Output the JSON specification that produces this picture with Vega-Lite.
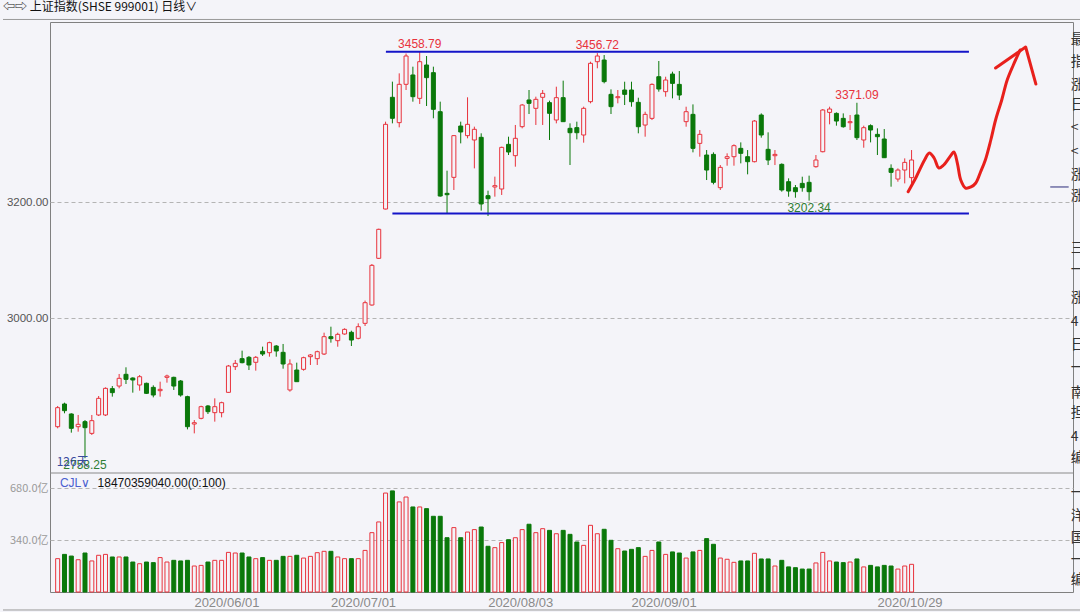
{
  "$schema": "https://vega.github.io/schema/vega-lite/v6.json",
  "width": 1023,
  "height": 570,
  "autosize": {"type": "none"},
  "padding": {"left": 50, "top": 22, "right": 7, "bottom": 20},
  "background": "#f4f4f9",
  "title": {"text": "⇦⇨ 上证指数(SHSE 999001) 日线∨", "anchor": "start", "frame": "group", "dx": -47, "offset": 5, "fontSize": 12, "font": "Noto Sans CJK SC", "fontWeight": "normal", "color": "#111"},
  "config": {"view": {"stroke": "#808080", "strokeWidth": 1}, "axis": {"labelFont": "Liberation Sans"}},
  "resolve": {"scale": {"y": "independent"}},
  "datasets": {
    "k": [
      {"i":0,"o":2812.6,"h":2848.3,"l":2809.8,"c":2845.4,"v":218},
      {"i":1,"o":2851.7,"h":2854.0,"l":2835.7,"c":2840.2,"v":246},
      {"i":2,"o":2834.5,"h":2835.7,"l":2802.3,"c":2809.8,"v":235},
      {"i":3,"o":2812.6,"h":2832.8,"l":2804.0,"c":2816.7,"v":211},
      {"i":4,"o":2821.3,"h":2824.1,"l":2758.25,"c":2810.9,"v":255},
      {"i":5,"o":2801.1,"h":2832.8,"l":2798.3,"c":2823.0,"v":203},
      {"i":6,"o":2832.8,"h":2865.5,"l":2831.0,"c":2861.5,"v":240},
      {"i":7,"o":2832.8,"h":2880.4,"l":2831.0,"c":2878.7,"v":246},
      {"i":8,"o":2878.2,"h":2882.7,"l":2864.4,"c":2871.3,"v":229},
      {"i":9,"o":2882.7,"h":2903.5,"l":2878.7,"c":2896.0,"v":229},
      {"i":10,"o":2902.9,"h":2915.0,"l":2886.2,"c":2894.2,"v":229},
      {"i":11,"o":2896.5,"h":2897.7,"l":2871.3,"c":2893.1,"v":196},
      {"i":12,"o":2884.5,"h":2901.7,"l":2874.7,"c":2898.8,"v":185},
      {"i":13,"o":2887.4,"h":2888.5,"l":2869.0,"c":2870.1,"v":196},
      {"i":14,"o":2880.4,"h":2883.9,"l":2863.2,"c":2867.2,"v":192},
      {"i":15,"o":2874.7,"h":2890.2,"l":2864.4,"c":2877.0,"v":225},
      {"i":16,"o":2897.7,"h":2902.3,"l":2888.5,"c":2900.0,"v":196},
      {"i":17,"o":2897.7,"h":2898.8,"l":2875.9,"c":2882.7,"v":207},
      {"i":18,"o":2891.4,"h":2893.1,"l":2864.4,"c":2867.2,"v":203},
      {"i":19,"o":2864.4,"h":2866.0,"l":2808.0,"c":2812.6,"v":207},
      {"i":20,"o":2817.2,"h":2824.1,"l":2801.1,"c":2819.5,"v":170},
      {"i":21,"o":2827.0,"h":2848.8,"l":2825.3,"c":2847.1,"v":174},
      {"i":22,"o":2848.3,"h":2850.0,"l":2834.5,"c":2838.5,"v":196},
      {"i":23,"o":2836.8,"h":2861.5,"l":2821.3,"c":2847.1,"v":207},
      {"i":24,"o":2836.8,"h":2855.7,"l":2828.7,"c":2854.0,"v":207},
      {"i":25,"o":2871.8,"h":2919.0,"l":2871.3,"c":2917.2,"v":259},
      {"i":26,"o":2916.1,"h":2927.6,"l":2910.3,"c":2921.8,"v":255},
      {"i":27,"o":2929.9,"h":2943.7,"l":2921.8,"c":2923.0,"v":255},
      {"i":28,"o":2932.2,"h":2934.5,"l":2910.3,"c":2919.0,"v":229},
      {"i":29,"o":2923.6,"h":2934.5,"l":2909.2,"c":2932.2,"v":218},
      {"i":30,"o":2942.5,"h":2950.6,"l":2934.5,"c":2937.9,"v":225},
      {"i":31,"o":2940.2,"h":2959.2,"l":2933.3,"c":2957.5,"v":207},
      {"i":32,"o":2951.7,"h":2953.4,"l":2933.3,"c":2943.1,"v":207},
      {"i":33,"o":2940.8,"h":2955.2,"l":2912.6,"c":2920.7,"v":233},
      {"i":34,"o":2875.9,"h":2928.7,"l":2873.0,"c":2920.7,"v":233},
      {"i":35,"o":2910.3,"h":2923.0,"l":2890.2,"c":2890.2,"v":240},
      {"i":36,"o":2911.5,"h":2933.3,"l":2909.2,"c":2931.6,"v":222},
      {"i":37,"o":2933.3,"h":2937.9,"l":2919.0,"c":2936.2,"v":233},
      {"i":38,"o":2929.9,"h":2943.7,"l":2919.0,"c":2941.9,"v":257},
      {"i":39,"o":2937.9,"h":2974.7,"l":2936.2,"c":2967.8,"v":266},
      {"i":40,"o":2967.8,"h":2985.0,"l":2957.5,"c":2964.4,"v":266},
      {"i":41,"o":2960.9,"h":2974.7,"l":2950.5,"c":2971.8,"v":229},
      {"i":42,"o":2972.4,"h":2982.2,"l":2971.2,"c":2980.4,"v":218},
      {"i":43,"o":2975.3,"h":2978.1,"l":2951.7,"c":2962.0,"v":218},
      {"i":44,"o":2964.9,"h":2990.8,"l":2963.2,"c":2985.0,"v":218},
      {"i":45,"o":2990.8,"h":3030.0,"l":2986.2,"c":3026.4,"v":272},
      {"i":46,"o":3022.4,"h":3093.1,"l":3021.3,"c":3090.8,"v":388},
      {"i":47,"o":3102.9,"h":3154.0,"l":3101.7,"c":3152.9,"v":458},
      {"i":48,"o":3187.9,"h":3338.5,"l":3187.3,"c":3333.9,"v":647},
      {"i":49,"o":3380.5,"h":3407.5,"l":3335.6,"c":3344.3,"v":661},
      {"i":50,"o":3336.8,"h":3421.8,"l":3328.7,"c":3402.9,"v":589},
      {"i":51,"o":3402.9,"h":3456.0,"l":3393.1,"c":3451.7,"v":621},
      {"i":52,"o":3419.0,"h":3433.3,"l":3373.0,"c":3381.6,"v":556},
      {"i":53,"o":3378.7,"h":3458.79,"l":3369.0,"c":3441.9,"v":556},
      {"i":54,"o":3436.2,"h":3451.7,"l":3365.5,"c":3414.4,"v":545},
      {"i":55,"o":3423.0,"h":3433.3,"l":3344.3,"c":3359.8,"v":495},
      {"i":56,"o":3355.7,"h":3373.0,"l":3209.2,"c":3210.3,"v":495},
      {"i":57,"o":3214.9,"h":3254.0,"l":3180.5,"c":3212.6,"v":355},
      {"i":58,"o":3242.5,"h":3315.5,"l":3220.7,"c":3314.4,"v":421},
      {"i":59,"o":3331.0,"h":3338.5,"l":3301.1,"c":3320.7,"v":355},
      {"i":60,"o":3314.4,"h":3380.5,"l":3309.8,"c":3333.9,"v":392},
      {"i":61,"o":3306.9,"h":3329.9,"l":3258.0,"c":3325.3,"v":408},
      {"i":62,"o":3311.5,"h":3318.4,"l":3185.1,"c":3196.6,"v":425},
      {"i":63,"o":3210.9,"h":3219.5,"l":3175.9,"c":3205.7,"v":299},
      {"i":64,"o":3225.9,"h":3243.7,"l":3209.2,"c":3228.2,"v":290},
      {"i":65,"o":3222.4,"h":3295.4,"l":3212.1,"c":3294.2,"v":323},
      {"i":66,"o":3299.4,"h":3312.6,"l":3281.0,"c":3286.2,"v":342},
      {"i":67,"o":3279.9,"h":3332.8,"l":3260.9,"c":3309.8,"v":355},
      {"i":68,"o":3329.9,"h":3369.0,"l":3327.0,"c":3367.2,"v":408},
      {"i":69,"o":3375.9,"h":3393.1,"l":3351.7,"c":3370.1,"v":443},
      {"i":70,"o":3361.5,"h":3381.6,"l":3332.8,"c":3377.0,"v":388},
      {"i":71,"o":3380.5,"h":3393.1,"l":3332.8,"c":3387.3,"v":414},
      {"i":72,"o":3371.3,"h":3374.7,"l":3306.9,"c":3352.9,"v":403},
      {"i":73,"o":3341.4,"h":3398.8,"l":3335.6,"c":3379.9,"v":381},
      {"i":74,"o":3379.9,"h":3409.2,"l":3338.5,"c":3338.5,"v":403},
      {"i":75,"o":3327.0,"h":3335.6,"l":3263.8,"c":3319.5,"v":377},
      {"i":76,"o":3328.2,"h":3338.5,"l":3308.0,"c":3319.5,"v":327},
      {"i":77,"o":3315.5,"h":3364.4,"l":3302.3,"c":3361.5,"v":305},
      {"i":78,"o":3373.0,"h":3441.9,"l":3370.1,"c":3439.1,"v":436},
      {"i":79,"o":3441.9,"h":3456.72,"l":3430.5,"c":3451.7,"v":381},
      {"i":80,"o":3444.8,"h":3453.4,"l":3404.6,"c":3407.5,"v":410},
      {"i":81,"o":3385.6,"h":3394.2,"l":3351.7,"c":3364.4,"v":338},
      {"i":82,"o":3379.8,"h":3393.1,"l":3370.1,"c":3381.6,"v":283},
      {"i":83,"o":3393.1,"h":3407.4,"l":3367.2,"c":3385.6,"v":268},
      {"i":84,"o":3393.1,"h":3407.4,"l":3364.3,"c":3372.9,"v":279},
      {"i":85,"o":3371.8,"h":3379.8,"l":3318.4,"c":3329.8,"v":290},
      {"i":86,"o":3332.7,"h":3355.7,"l":3312.6,"c":3351.1,"v":233},
      {"i":87,"o":3344.2,"h":3404.5,"l":3341.3,"c":3402.8,"v":272},
      {"i":88,"o":3416.0,"h":3443.1,"l":3390.2,"c":3394.8,"v":327},
      {"i":89,"o":3390.2,"h":3416.0,"l":3381.6,"c":3410.3,"v":246},
      {"i":90,"o":3420.6,"h":3424.7,"l":3378.7,"c":3404.5,"v":262},
      {"i":91,"o":3402.8,"h":3425.8,"l":3375.8,"c":3384.4,"v":255},
      {"i":92,"o":3338.5,"h":3364.3,"l":3329.8,"c":3355.7,"v":222},
      {"i":93,"o":3351.1,"h":3368.3,"l":3285.6,"c":3292.5,"v":262},
      {"i":94,"o":3301.1,"h":3324.1,"l":3278.1,"c":3316.6,"v":272},
      {"i":95,"o":3281.0,"h":3289.6,"l":3237.9,"c":3255.1,"v":349},
      {"i":96,"o":3282.1,"h":3285.6,"l":3230.4,"c":3233.9,"v":312},
      {"i":97,"o":3224.7,"h":3263.7,"l":3220.7,"c":3259.7,"v":222},
      {"i":98,"o":3275.2,"h":3283.9,"l":3262.6,"c":3278.1,"v":214},
      {"i":99,"o":3278.1,"h":3299.4,"l":3262.6,"c":3297.1,"v":194},
      {"i":100,"o":3292.5,"h":3302.8,"l":3266.6,"c":3283.9,"v":203},
      {"i":101,"o":3278.1,"h":3289.6,"l":3247.7,"c":3269.5,"v":203},
      {"i":102,"o":3269.5,"h":3341.3,"l":3268.3,"c":3339.6,"v":253},
      {"i":103,"o":3350.0,"h":3352.8,"l":3310.9,"c":3315.5,"v":216},
      {"i":104,"o":3290.8,"h":3320.1,"l":3263.7,"c":3272.4,"v":216},
      {"i":105,"o":3279.8,"h":3289.6,"l":3263.7,"c":3282.1,"v":170},
      {"i":106,"o":3264.9,"h":3266.6,"l":3217.8,"c":3220.7,"v":207},
      {"i":107,"o":3235.0,"h":3240.8,"l":3209.1,"c":3218.9,"v":164},
      {"i":108,"o":3224.7,"h":3229.3,"l":3207.4,"c":3217.8,"v":159},
      {"i":109,"o":3232.1,"h":3243.6,"l":3217.8,"c":3224.7,"v":150},
      {"i":110,"o":3233.9,"h":3245.4,"l":3202.34,"c":3217.8,"v":150},
      {"i":111,"o":3260.9,"h":3281.0,"l":3259.2,"c":3272.4,"v":190},
      {"i":112,"o":3286.7,"h":3360.3,"l":3285.6,"c":3358.6,"v":259},
      {"i":113,"o":3354.5,"h":3364.3,"l":3333.9,"c":3360.3,"v":203},
      {"i":114,"o":3352.8,"h":3354.5,"l":3331.6,"c":3339.6,"v":196},
      {"i":115,"o":3344.2,"h":3352.8,"l":3328.1,"c":3329.8,"v":192},
      {"i":116,"o":3336.7,"h":3350.0,"l":3324.1,"c":3338.5,"v":196},
      {"i":117,"o":3350.0,"h":3371.09,"l":3306.9,"c":3310.9,"v":216},
      {"i":118,"o":3306.9,"h":3331.6,"l":3293.6,"c":3328.1,"v":164},
      {"i":119,"o":3331.6,"h":3333.9,"l":3302.8,"c":3324.1,"v":174},
      {"i":120,"o":3316.6,"h":3327.0,"l":3281.0,"c":3312.6,"v":164},
      {"i":121,"o":3308.6,"h":3325.8,"l":3276.4,"c":3276.4,"v":174},
      {"i":122,"o":3258.0,"h":3264.9,"l":3226.4,"c":3251.1,"v":170},
      {"i":123,"o":3239.6,"h":3258.0,"l":3235.0,"c":3255.1,"v":150},
      {"i":124,"o":3255.1,"h":3275.2,"l":3232.1,"c":3268.3,"v":170},
      {"i":125,"o":3242.0,"h":3289.6,"l":3232.1,"c":3272.4,"v":181}
    ],
    "ann": [
      {"i":53,"p":3458.79,"t":"3458.79","k":"hi"},
      {"i":79,"p":3456.72,"t":"3456.72","k":"hi"},
      {"i":117,"p":3371.09,"t":"3371.09","k":"hi"},
      {"i":110,"p":3202.34,"t":"3202.34","k":"lo"},
      {"i":4,"p":2758.25,"t":"2758.25","k":"lo"}
    ],
    "blue": [
      {"x1":48.05,"x2":133.4,"p":3459.0},
      {"x1":49.0,"x2":133.4,"p":3180.0}
    ],
    "frame": [
      {"x1":-8,"x2":160,"p":3514.7},
      {"x1":-8,"x2":160,"p":2496.6}
    ],
    "marker": [
      {"x1":145.3,"x2":148.0,"p":3225.9}
    ],
    "arrow": [
      {"k":0,"i":124.5,"p":3217.8},
      {"k":1,"i":125.7,"p":3243.6},
      {"k":2,"i":126.9,"p":3272.4},
      {"k":3,"i":127.6,"p":3284.5},
      {"k":4,"i":128.3,"p":3275.9},
      {"k":5,"i":129.0,"p":3258.6},
      {"k":6,"i":129.7,"p":3263.8},
      {"k":7,"i":130.8,"p":3281.0},
      {"k":8,"i":131.2,"p":3286.2},
      {"k":9,"i":131.7,"p":3267.2},
      {"k":10,"i":132.2,"p":3237.9},
      {"k":11,"i":132.9,"p":3224.1},
      {"k":12,"i":133.7,"p":3225.9},
      {"k":13,"i":134.4,"p":3232.8},
      {"k":14,"i":135.1,"p":3251.7},
      {"k":15,"i":135.8,"p":3272.4},
      {"k":16,"i":136.6,"p":3306.9},
      {"k":17,"i":137.3,"p":3341.4},
      {"k":18,"i":138.2,"p":3375.9},
      {"k":19,"i":139.0,"p":3410.3},
      {"k":20,"i":139.9,"p":3436.2},
      {"k":21,"i":140.9,"p":3462.1}
    ],
    "head": [
      {"k":0,"i":137.3,"p":3431.0},
      {"k":1,"i":141.7,"p":3467.2},
      {"k":2,"i":143.2,"p":3403.4}
    ],
    "cjl": [
      {"i":0.33,"v":712.8,"t":"CJL∨"},
      {"i":5.84,"v":712.8,"t":"18470359040.00(0:100)"}
    ],
    "days": [
      {"i":-0.14,"p":2751.7,"t":"126天"}
    ],
    "side": [
      {"p":3479.3,"t":"最"},{"p":3441.4,"t":"指"},{"p":3401.7,"t":"涨"},{"p":3367.2,"t":"日"},
      {"p":3327.6,"t":"<"},{"p":3286.2,"t":"<"},{"p":3246.6,"t":"涨"},{"p":3210.3,"t":"涨"},
      {"p":3120.7,"t":"三"},{"p":3082.8,"t":"一"},{"p":3034.5,"t":"涨"},{"p":2993.1,"t":"4"},
      {"p":2953.4,"t":"日"},{"p":2913.8,"t":"一"},{"p":2870.7,"t":"南"},{"p":2836.2,"t":"担"},
      {"p":2795.2,"t":"4"},{"p":2758.6,"t":"编"},{"p":2698.3,"t":"一"},{"p":2658.6,"t":"洋"},
      {"p":2620.7,"t":"国"},{"p":2582.8,"t":"一"},{"p":2548.3,"t":"编"}
    ]
  },
  "layer": [
    {
      "data": {"values": [{}]},
      "mark": {"type": "rule", "stroke": "#8a8a8a", "strokeWidth": 1},
      "encoding": {
        "y": {"datum": 778, "type": "quantitative", "scale": {"domain": [0, 680], "range": [570, 466], "nice": false, "zero": true}, "axis": null}
      }
    },
    {
      "data": {"name": "k"},
      "mark": {"type": "rule", "strokeWidth": 1},
      "encoding": {
        "x": {"field": "i", "type": "quantitative", "scale": {"domain": [-0.39, 147.9], "nice": false, "zero": false},
              "axis": {"orient": "bottom", "values": [25, 45, 68, 89, 125], "labelExpr": "datum.value == 25 ? '2020/06/01' : datum.value == 45 ? '2020/07/01' : datum.value == 68 ? '2020/08/03' : datum.value == 89 ? '2020/09/01' : '2020/10/29'", "domain": false, "ticks": false, "grid": false, "labelFontSize": 13, "labelColor": "#8a8a8a", "labelPadding": 4, "labelOffset": -2, "labelFlush": false, "labelOverlap": false, "title": null}},
        "y": {"field": "l", "type": "quantitative", "scale": {"domain": [2700, 3500], "range": [470, 6], "nice": false, "zero": false},
              "axis": {"orient": "left", "values": [3000, 3200], "format": ".2f", "domain": false, "ticks": false, "grid": true, "gridDash": [4, 3], "gridColor": "#b4b4b4", "labelFontSize": 11.5, "labelColor": "#555555", "labelPadding": 2, "title": null}},
        "y2": {"field": "h"},
        "color": {"condition": {"test": "datum.c >= datum.o", "value": "#e8323c"}, "value": "#0a780a"}
      }
    },
    {
      "data": {"name": "k"},
      "mark": {"type": "bar", "width": 4, "strokeWidth": 1},
      "encoding": {
        "x": {"field": "i", "type": "quantitative"},
        "y": {"field": "o", "type": "quantitative", "scale": {"domain": [2700, 3500], "range": [470, 6], "nice": false, "zero": false}, "axis": null},
        "y2": {"field": "c"},
        "fill": {"condition": {"test": "datum.c >= datum.o", "value": "#f4f4f9"}, "value": "#0a780a"},
        "stroke": {"condition": {"test": "datum.c >= datum.o", "value": "#e8323c"}, "value": "#0a780a"}
      }
    },
    {
      "data": {"name": "k"},
      "mark": {"type": "bar", "width": 4, "strokeWidth": 1},
      "encoding": {
        "x": {"field": "i", "type": "quantitative"},
        "y": {"field": "v", "type": "quantitative", "scale": {"domain": [0, 680], "range": [570, 466], "nice": false, "zero": true},
              "axis": {"orient": "left", "values": [340, 680], "labelExpr": "format(datum.value, '.1f') + '亿'", "domain": false, "ticks": false, "grid": true, "gridDash": [4, 3], "gridColor": "#b4b4b4", "labelFontSize": 11, "labelFont": "Noto Sans CJK SC", "labelColor": "#9a9a9a", "labelPadding": 2, "title": null}},
        "fill": {"condition": {"test": "datum.c >= datum.o", "value": "#f4f4f9"}, "value": "#0a780a"},
        "stroke": {"condition": {"test": "datum.c >= datum.o", "value": "#e8323c"}, "value": "#0a780a"}
      }
    },
    {
      "data": {"name": "blue"},
      "mark": {"type": "rule", "stroke": "#1414c8", "strokeWidth": 2},
      "encoding": {
        "x": {"field": "x1", "type": "quantitative"},
        "x2": {"field": "x2"},
        "y": {"field": "p", "type": "quantitative", "scale": {"domain": [2700, 3500], "range": [470, 6], "nice": false, "zero": false}, "axis": null}
      }
    },
    {
      "data": {"name": "frame"},
      "mark": {"type": "rule", "stroke": "#9a9a9a", "strokeWidth": 1},
      "encoding": {
        "x": {"field": "x1", "type": "quantitative"},
        "x2": {"field": "x2"},
        "y": {"field": "p", "type": "quantitative", "scale": {"domain": [2700, 3500], "range": [470, 6], "nice": false, "zero": false}, "axis": null}
      }
    },
    {
      "data": {"name": "marker"},
      "mark": {"type": "rule", "stroke": "#2a2a7a", "strokeWidth": 1},
      "encoding": {
        "x": {"field": "x1", "type": "quantitative"},
        "x2": {"field": "x2"},
        "y": {"field": "p", "type": "quantitative", "scale": {"domain": [2700, 3500], "range": [470, 6], "nice": false, "zero": false}, "axis": null}
      }
    },
    {
      "data": {"name": "arrow"},
      "mark": {"type": "line", "stroke": "#e8201c", "strokeWidth": 3, "interpolate": "catmull-rom", "strokeCap": "round"},
      "encoding": {
        "x": {"field": "i", "type": "quantitative"},
        "y": {"field": "p", "type": "quantitative", "scale": {"domain": [2700, 3500], "range": [470, 6], "nice": false, "zero": false}, "axis": null},
        "order": {"field": "k", "type": "quantitative"}
      }
    },
    {
      "data": {"name": "head"},
      "mark": {"type": "line", "stroke": "#e8201c", "strokeWidth": 3, "interpolate": "linear", "strokeCap": "round", "strokeJoin": "round"},
      "encoding": {
        "x": {"field": "i", "type": "quantitative"},
        "y": {"field": "p", "type": "quantitative", "scale": {"domain": [2700, 3500], "range": [470, 6], "nice": false, "zero": false}, "axis": null},
        "order": {"field": "k", "type": "quantitative"}
      }
    },
    {
      "data": {"name": "ann"},
      "transform": [{"filter": "datum.k == 'hi'"}],
      "mark": {"type": "text", "baseline": "bottom", "dy": -1, "fontSize": 12, "font": "Liberation Sans", "color": "#e8323c"},
      "encoding": {
        "x": {"field": "i", "type": "quantitative"},
        "y": {"field": "p", "type": "quantitative", "scale": {"domain": [2700, 3500], "range": [470, 6], "nice": false, "zero": false}, "axis": null},
        "text": {"field": "t"}
      }
    },
    {
      "data": {"name": "ann"},
      "transform": [{"filter": "datum.k == 'lo'"}],
      "mark": {"type": "text", "baseline": "top", "dy": 2, "fontSize": 12, "font": "Liberation Sans", "color": "#2e7d32"},
      "encoding": {
        "x": {"field": "i", "type": "quantitative"},
        "y": {"field": "p", "type": "quantitative", "scale": {"domain": [2700, 3500], "range": [470, 6], "nice": false, "zero": false}, "axis": null},
        "text": {"field": "t"}
      }
    },
    {
      "data": {"name": "days"},
      "mark": {"type": "text", "align": "left", "baseline": "middle", "fontSize": 12, "font": "Noto Sans CJK SC", "color": "#3a4c9e"},
      "encoding": {
        "x": {"field": "i", "type": "quantitative"},
        "y": {"field": "p", "type": "quantitative", "scale": {"domain": [2700, 3500], "range": [470, 6], "nice": false, "zero": false}, "axis": null},
        "text": {"field": "t"}
      }
    },
    {
      "data": {"name": "side"},
      "mark": {"type": "text", "align": "left", "baseline": "middle", "fontSize": 14, "font": "Noto Sans CJK SC", "color": "#333333", "dx": 2},
      "encoding": {
        "x": {"datum": 148.0, "type": "quantitative"},
        "y": {"field": "p", "type": "quantitative", "scale": {"domain": [2700, 3500], "range": [470, 6], "nice": false, "zero": false}, "axis": null},
        "text": {"field": "t"}
      }
    },
    {
      "data": {"name": "cjl"},
      "mark": {"type": "text", "align": "left", "baseline": "middle", "fontSize": 12, "font": "Liberation Sans"},
      "encoding": {
        "x": {"field": "i", "type": "quantitative"},
        "y": {"field": "v", "type": "quantitative", "scale": {"domain": [0, 680], "range": [570, 466], "nice": false, "zero": true}, "axis": null},
        "text": {"field": "t"},
        "color": {"condition": {"test": "datum.t == 'CJL∨'", "value": "#4a5fd0"}, "value": "#111111"}
      }
    }
  ]
}
